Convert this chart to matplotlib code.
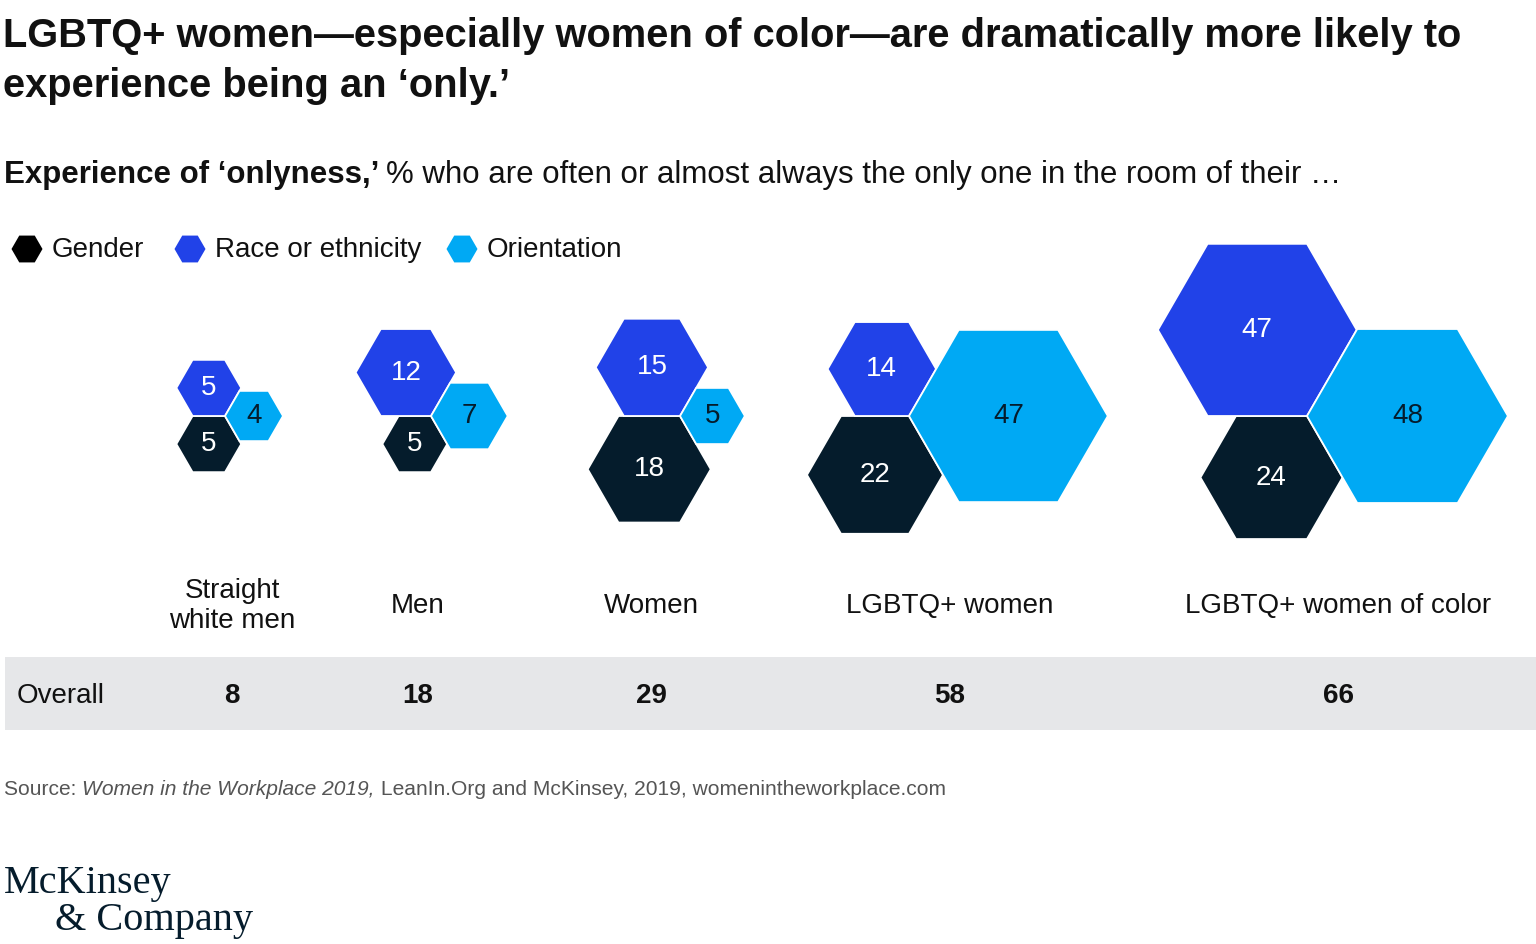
import numpy as np
import matplotlib.pyplot as plt
from matplotlib.patches import Polygon, Rectangle

# data
groups = ['Straight\nwhite men', 'Men', 'Women', 'LGBTQ+ women', 'LGBTQ+ women of color']
gender = [5, 5, 18, 22, 24]
race = [5, 12, 15, 14, 47]
orientation = [4, 7, 5, 47, 48]
overall = [8, 18, 29, 58, 66]
series_names = ['Gender', 'Race or ethnicity', 'Orientation']

NAVY = '#051C2C'
BLUE = '#2142E8'
CYAN = '#00A9F4'
GREY_ROW = '#E6E7E9'

# layout (pixels)
col_x = [232, 418, 651, 950, 1338]
join_x = [225, 431, 680, 909, 1307]   # point where the three hexagons meet
join_y = 416
scale = 14.5                           # radius = scale * sqrt(value)
S3 = np.sqrt(3) / 2

plt.rcParams['font.family'] = ['Liberation Sans', 'DejaVu Sans']

fig = plt.figure(figsize=(15.36, 9.44), dpi=100)
ax = fig.add_axes([0, 0, 1, 1])
ax.set_xlim(0, 1536)
ax.set_ylim(944, 0)
ax.axis('off')
renderer = fig.canvas.get_renderer()


def hexagon(cx, cy, r, color, lw=1.3):
    ang = np.radians(np.arange(0, 360, 60))
    pts = np.column_stack([cx + r * np.cos(ang), cy + r * np.sin(ang)])
    ax.add_patch(Polygon(pts, closed=True, facecolor=color,
                         edgecolor='white', linewidth=lw))


def run_text(x, y, parts, **kw):
    # draw several text pieces one after the other on one line
    for txt, extra in parts:
        t = ax.text(x, y, txt, **kw, **extra)
        bb = t.get_window_extent(renderer)
        x += bb.width


# title
ax.text(3, 47, 'LGBTQ+ women\u2014especially women of color\u2014are dramatically more likely to',
        fontsize=28.7, fontweight='bold', color='#111111', va='baseline')
ax.text(3, 97, 'experience being an \u2018only.\u2019',
        fontsize=28.7, fontweight='bold', color='#111111', va='baseline')

# subtitle
run_text(4, 183, [('Experience of \u2018onlyness,\u2019 ', {'fontweight': 'bold'}),
                  ('% who are often or almost always the only one in the room of their \u2026', {})],
         fontsize=22.5, color='#111111', va='baseline')

# legend
leg_x = [27, 190, 462]
for lx, name, col in zip(leg_x, series_names, ['black', BLUE, CYAN]):
    hexagon(lx, 249, 15.5, col, lw=0)
    ax.text(lx + 25, 250, name, fontsize=20, color='#111111', va='center')

# hexagon clusters
for i in range(len(groups)):
    px = join_x[i]
    rg = scale * np.sqrt(gender[i])
    rr = scale * np.sqrt(race[i])
    ro = scale * np.sqrt(orientation[i])
    cg = (px - rg / 2, join_y + rg * S3)
    cr = (px - rr / 2, join_y - rr * S3)
    co = (px + ro, join_y)
    hexagon(*cg, rg, NAVY)
    hexagon(*cr, rr, BLUE)
    hexagon(*co, ro, CYAN)
    ax.text(*cg, str(gender[i]), fontsize=20, color='white', ha='center', va='center')
    ax.text(*cr, str(race[i]), fontsize=20, color='white', ha='center', va='center')
    ax.text(*co, str(orientation[i]), fontsize=20, color=NAVY, ha='center', va='center')

    ax.text(col_x[i], 606, groups[i], fontsize=20, color='#111111',
            ha='center', va='center', linespacing=1.15)

# overall row
ax.add_patch(Rectangle((5, 657), 1531, 73, facecolor=GREY_ROW, edgecolor='none'))
ax.text(17, 696, 'Overall', fontsize=20, color='#111111', va='center')
for i in range(len(groups)):
    ax.text(col_x[i], 696, str(overall[i]), fontsize=20, fontweight='bold',
            color='#111111', ha='center', va='center')

# source
run_text(4, 795, [('Source: ', {}), ('Women in the Workplace 2019,', {'style': 'italic'}),
                  (' LeanIn.Org and McKinsey, 2019, womenintheworkplace.com', {})],
         fontsize=15.1, color='#555555', va='baseline')

# logo
ax.text(4, 893, 'McKinsey', fontsize=29, color=NAVY, family='Liberation Serif', va='baseline')
ax.text(55, 930, '& Company', fontsize=29, color=NAVY, family='Liberation Serif', va='baseline')

fig.savefig('out.png', dpi=100, facecolor='white')
